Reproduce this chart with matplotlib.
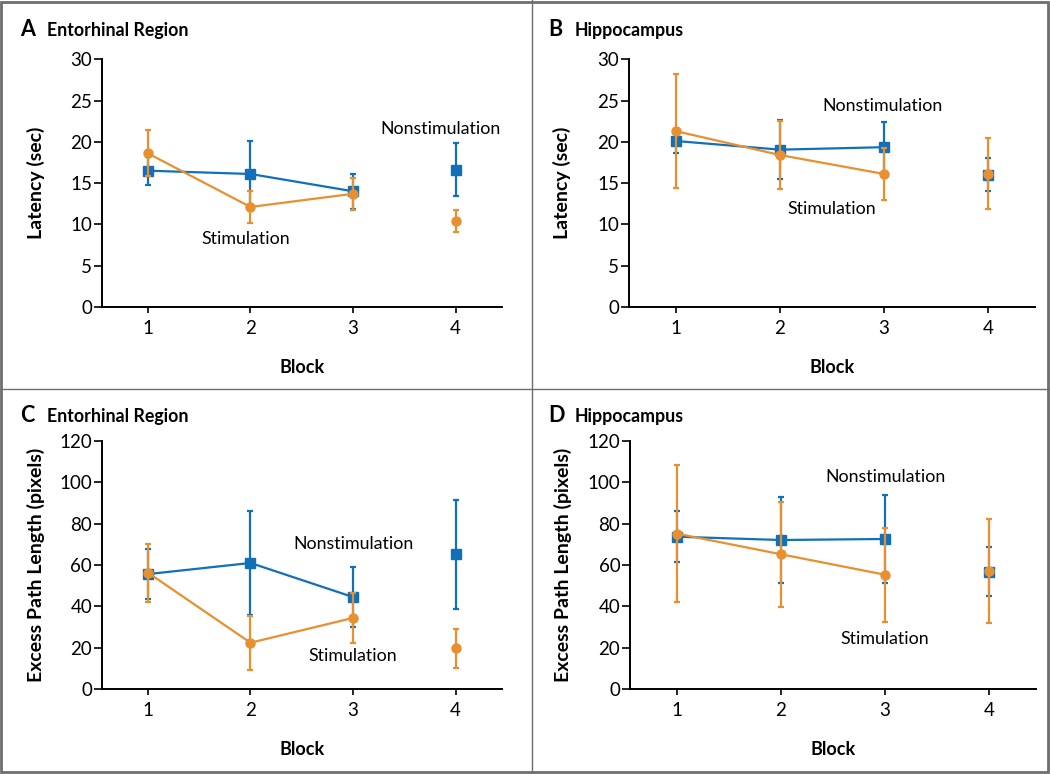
import numpy as np
import matplotlib
matplotlib.use("Agg")
from matplotlib import pyplot as plt
from matplotlib.patches import Rectangle
from matplotlib.lines import Line2D

blocks = [1, 2, 3, 4]

# panel A - latency, entorhinal
a_non = [16.5, 16.1, 14.0, 16.6]
a_non_err = [1.7, 4.0, 2.1, 3.2]
a_stim = [18.6, 12.1, 13.7, 10.4]
a_stim_err = [2.8, 1.9, 1.95, 1.3]

# panel B - latency, hippocampus
b_non = [20.1, 19.05, 19.35, 16.0]
b_non_err = [1.5, 3.6, 3.0, 2.0]
b_stim = [21.3, 18.4, 16.1, 16.15]
b_stim_err = [6.9, 4.1, 3.1, 4.3]

# panel C - path length, entorhinal
c_non = [55.6, 61.0, 44.5, 65.2]
c_non_err = [12.2, 25.0, 14.3, 26.3]
c_stim = [56.3, 22.4, 34.4, 19.7]
c_stim_err = [14.0, 13.0, 11.9, 9.4]

# panel D - path length, hippocampus
d_non = [73.7, 72.1, 72.6, 56.8]
d_non_err = [12.3, 20.9, 21.4, 11.7]
d_stim = [75.2, 65.2, 55.3, 57.1]
d_stim_err = [33.0, 25.3, 22.8, 25.1]

blue = '#1170b8'
orange = '#e8902f'
gray = '#6e6e6e'

plt.rcParams['font.family'] = ['Lato', 'DejaVu Sans']

fig = plt.figure(figsize=(10.5, 7.74), dpi=100)

panels = [
    ('A', 'Entorhinal Region', a_non, a_non_err, a_stim, a_stim_err,
     'Latency (sec)', 30, 5, [0.0969, 0.6037, 0.381, 0.3196],
     (3.85, 21.6), (1.95, 8.2)),
    ('B', 'Hippocampus', b_non, b_non_err, b_stim, b_stim_err,
     'Latency (sec)', 30, 5, [0.599, 0.6037, 0.3867, 0.3196],
     (2.99, 24.4), (2.5, 11.8)),
    ('C', 'Entorhinal Region', c_non, c_non_err, c_stim, c_stim_err,
     'Excess Path Length (pixels)', 120, 20, [0.0969, 0.1098, 0.381, 0.3204],
     (3.0, 70.0), (3.0, 16.1)),
    ('D', 'Hippocampus', d_non, d_non_err, d_stim, d_stim_err,
     'Excess Path Length (pixels)', 120, 20, [0.6, 0.1098, 0.3867, 0.3204],
     (3.0, 102.6), (3.0, 24.2)),
]

for letter, title, non, non_err, stim, stim_err, ylab, ymax, ystep, rect, non_pos, stim_pos in panels:
    ax = fig.add_axes(rect)
    x = np.array(blocks)
    # nonstimulation
    ax.errorbar(x, non, yerr=non_err, fmt='none', ecolor=blue, elinewidth=1.6,
                capsize=2, capthick=1.6, zorder=2)
    ax.plot(x[:3], non[:3], color=blue, lw=1.6, zorder=2)
    ax.plot(x, non, ls='none', marker='s', ms=7, color=blue, zorder=3)
    # stimulation
    ax.errorbar(x, stim, yerr=stim_err, fmt='none', ecolor=orange, elinewidth=1.6,
                capsize=2, capthick=1.6, zorder=4)
    ax.plot(x[:3], stim[:3], color=orange, lw=1.6, zorder=4)
    ax.plot(x, stim, ls='none', marker='o', ms=6.5, color=orange, zorder=5)

    ax.set_xlim(0.55, 4.45)
    ax.set_ylim(0, ymax)
    ax.set_xticks(blocks)
    ax.set_yticks(np.arange(0, ymax + 1, ystep))
    for s in ['top', 'right']:
        ax.spines[s].set_visible(False)
    for s in ['left', 'bottom']:
        ax.spines[s].set_linewidth(1.4)
    ax.tick_params(axis='y', length=6, width=1.2, pad=1, labelsize=13.5)
    ax.tick_params(axis='x', length=4.5, width=1.2, pad=5, labelsize=13.5)
    ax.set_ylabel(ylab, fontsize=14, fontweight='bold')
    ax.yaxis.set_label_coords(-0.142, 0.5)
    ax.set_xlabel('Block', fontsize=13, fontweight='bold')
    ax.xaxis.set_label_coords(0.5, -0.21)

    ax.text(*non_pos, 'Nonstimulation', ha='center', va='center', fontsize=12.8)
    ax.text(*stim_pos, 'Stimulation', ha='center', va='center', fontsize=12.8)

    # panel heading
    left_px = 20 if letter in 'AC' else 548
    top_px = 36 if letter in 'AB' else 422
    fig.text(left_px / 1050, 1 - top_px / 774, letter, fontsize=15.5,
             fontweight='bold', va='baseline', ha='left')
    fig.text((left_px + 27) / 1050, 1 - top_px / 774, title, fontsize=12.8,
             fontweight='bold', va='baseline', ha='left')

# frame and dividers
fig.add_artist(Rectangle((0.001, 0.002), 0.997, 0.996, transform=fig.transFigure,
                         fill=False, edgecolor=gray, lw=2))
fig.add_artist(Line2D([531.5 / 1050] * 2, [0, 1], transform=fig.transFigure,
                      color=gray, lw=1))
fig.add_artist(Line2D([0, 1], [1 - 389 / 774] * 2, transform=fig.transFigure,
                      color=gray, lw=1))

fig.savefig('out.png', dpi=100)
